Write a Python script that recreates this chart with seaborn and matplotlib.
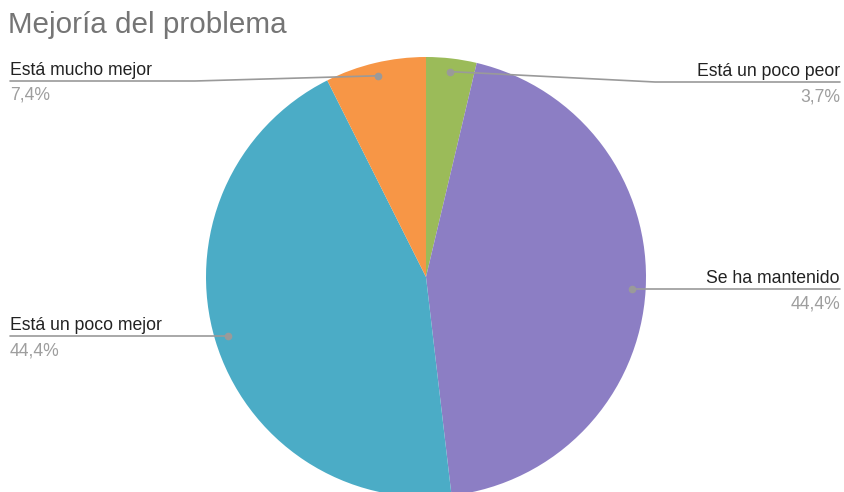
import numpy as np
import matplotlib
matplotlib.use("Agg")
import matplotlib.pyplot as plt
import seaborn as sns
from matplotlib.lines import Line2D

categories = ["Está un poco peor", "Se ha mantenido", "Está un poco mejor", "Está mucho mejor"]
values = [1, 12, 12, 2]
pct_labels = ["3,7%", "44,4%", "44,4%", "7,4%"]
colors = ["#9BBB59", "#8C7EC4", "#4BACC6", "#F79646"]

sns.set_theme(style="white")
plt.rcParams["font.family"] = ["Liberation Sans", "DejaVu Sans"]

W, H = 844, 492
fig = plt.figure(figsize=(W / 100, H / 100), dpi=100)
fig.patch.set_facecolor("white")

cx, cy, R = 426, 277, 220  # pixel center (top-down y), radius
ax = fig.add_axes([(cx - R) / W, 1 - (cy + R) / H, 2 * R / W, 2 * R / H])
wedges, _ = ax.pie(values, colors=colors, startangle=90, counterclock=False,
                   wedgeprops=dict(linewidth=0))
ax.set_xlim(-1, 1)
ax.set_ylim(-1, 1)
ax.set_aspect("auto")
ax.axis("off")

fig.text(8 / W, 1 - 33 / H, "Mejoría del problema", fontsize=21.3, color="#757575",
         va="baseline", ha="left")

def fx(x):
    return x / W

def fy(y):
    return 1 - y / H

# label layout: (side, line_y, elbow_x)
layout = [("right", 82, 655), ("right", None, None), ("left", None, None), ("left", 81, 195)]

total = sum(values)
cum = 0
line_col = "#9a9a9a"
for i, v in enumerate(values):
    mid = cum + v / 2
    cum += v
    ang = np.deg2rad(90 - 360 * mid / total)
    px = cx + 0.94 * R * np.cos(ang)
    py = cy - 0.94 * R * np.sin(ang)
    side, ly, ex = layout[i]
    if ly is None:
        ly = py
        ex = px
    end_x = 840 if side == "right" else 10
    xs = [px, ex, end_x]
    ys = [py, ly, ly]
    fig.add_artist(Line2D([fx(x) for x in xs], [fy(y) for y in ys], color=line_col,
                          lw=1.2, transform=fig.transFigure))
    fig.add_artist(Line2D([fx(px)], [fy(py)], marker="o", ms=4.5, color=line_col,
                          mec=line_col, transform=fig.transFigure))
    ha = "right" if side == "right" else "left"
    fig.text(fx(end_x), fy(ly - 6), categories[i], fontsize=12.7, color="#222222",
             ha=ha, va="baseline")
    fig.text(fx(end_x), fy(ly + 19), pct_labels[i], fontsize=12.7, color="#9e9e9e",
             ha=ha, va="baseline")

fig.savefig("out.png", dpi=100)
